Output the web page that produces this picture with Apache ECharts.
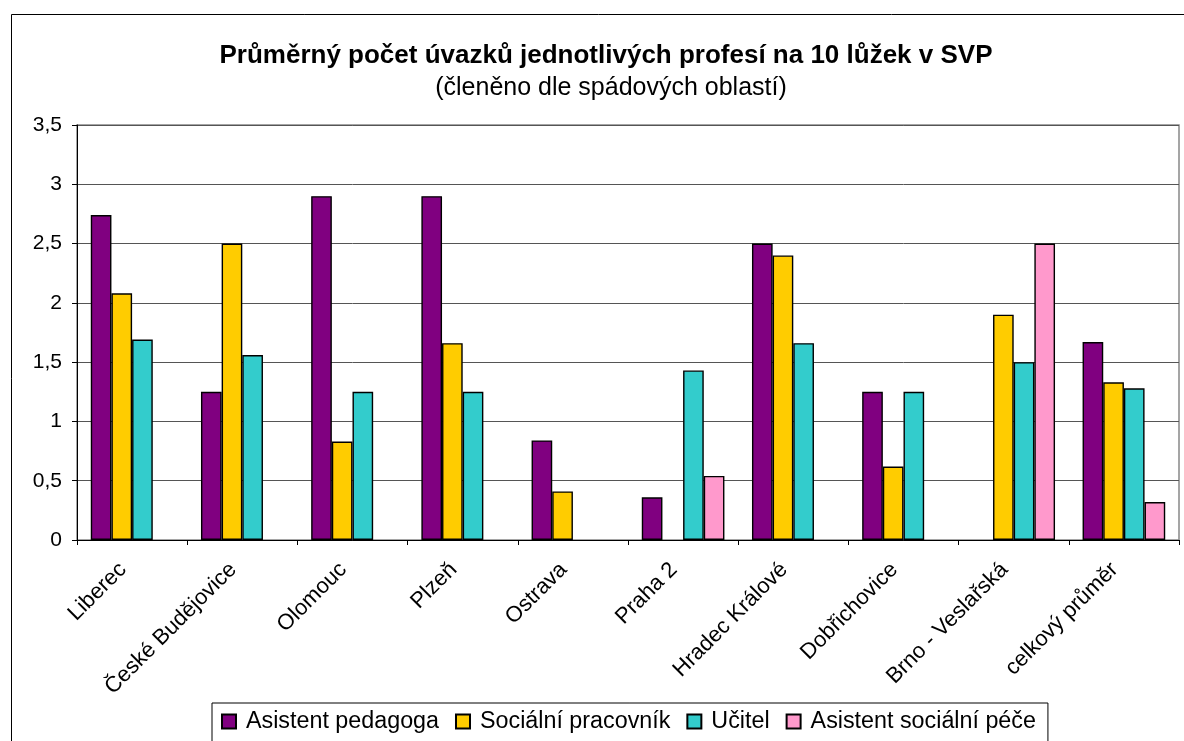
<!DOCTYPE html>
<html>
<head>
<meta charset="utf-8">
<script src="https://cdn.jsdelivr.net/npm/echarts@6/dist/echarts.min.js"></script>
<style>
html,body{margin:0;padding:0;background:#fff;}
#chart{width:1184px;height:741px;}
</style>
</head>
<body>
<div id="chart"></div>
<script>
const titleText = 'Průměrný počet úvazků jednotlivých profesí na 10 lůžek v SVP';
const subtitleText = '(členěno dle spádových oblastí)';
const categories = ['Liberec', 'České Budějovice', 'Olomouc', 'Plzeň', 'Ostrava', 'Praha 2', 'Hradec Králové', 'Dobřichovice', 'Brno - Veslařská', 'celkový průměr'];
const seriesNames = ['Asistent pedagoga', 'Sociální pracovník', 'Učitel', 'Asistent sociální péče'];
const asistentPedagoga = [2.74, 1.25, 2.9, 2.9, 0.84, 0.36, 2.5, 1.25, null, 1.67];
const socialniPracovnik = [2.08, 2.5, 0.83, 1.66, 0.41, null, 2.4, 0.62, 1.9, 1.33];
const ucitel = [1.69, 1.56, 1.25, 1.25, null, 1.43, 1.66, 1.25, 1.5, 1.28];
const asistentSocialniPece = [null, null, null, null, null, 0.54, null, null, 2.5, 0.32];
const colors = ['#800080', '#FFCC00', '#33CCCC', '#FF99CC'];
const yTicks = [0, 0.5, 1, 1.5, 2, 2.5, 3, 3.5];

const FONT = "'Liberation Sans', Arial, sans-serif";
const dataSets = [asistentPedagoga, socialniPracovnik, ucitel, asistentSocialniPece];

const legendRich = {t: {fontFamily: FONT, fontSize: 23.3, color: '#000', padding: [0, 0, 0, 11], verticalAlign: 'middle'}};
colors.forEach(function (c, i) {
  legendRich['m' + i] = {width: 12, height: 12, backgroundColor: c, borderColor: '#000', borderWidth: 2, verticalAlign: 'middle'};
});

const chart = echarts.init(document.getElementById('chart'), null, {renderer: 'canvas'});
chart.setOption({
  animation: false,
  backgroundColor: '#ffffff',
  color: colors,
  textStyle: {fontFamily: FONT},
  graphic: [{
    type: 'rect', left: 9, top: 12, z: -10,
    shape: {width: 1200, height: 760},
    style: {fill: 'none', stroke: '#000', lineWidth: 1}
  }],
  title: [{
    text: titleText, left: 601, top: 38, textAlign: 'center',
    textStyle: {fontFamily: FONT, fontSize: 26, fontWeight: 'bold', color: '#000'}
  }, {
    text: subtitleText, left: 606, top: 71, textAlign: 'center',
    textStyle: {fontFamily: FONT, fontSize: 25, fontWeight: 'normal', color: '#000'}
  }],
  legend: {
    data: seriesNames,
    left: 212, top: 703,
    orient: 'horizontal',
    itemWidth: 0, itemHeight: 0,
    itemGap: 12,
    padding: [7, 12, 20, 5],
    borderColor: '#000', borderWidth: 1,
    formatter: function (name) {
      return '{m' + seriesNames.indexOf(name) + '| }{t|' + name + '}';
    },
    textStyle: {fontFamily: FONT, fontSize: 23.3, color: '#000', rich: legendRich}
  },
  grid: {
    left: 77, right: 5, top: 125, bottom: 201,
    show: true, borderColor: '#888', borderWidth: 1.5, backgroundColor: 'transparent'
  },
  xAxis: {
    type: 'category',
    data: categories,
    axisLine: {lineStyle: {color: '#000', width: 1}},
    axisTick: {show: true, length: 5, interval: 0, lineStyle: {color: '#000'}},
    axisLabel: {
      interval: 0, rotate: 45, margin: 17,
      fontFamily: FONT, fontSize: 22, color: '#000',
      padding: [0, 13, 0, 0]
    },
    splitLine: {show: false}
  },
  yAxis: {
    type: 'value',
    min: 0, max: 3.5, interval: 0.5,
    axisLine: {show: true, lineStyle: {color: '#000', width: 1}},
    axisTick: {show: true, length: 5, lineStyle: {color: '#000'}},
    axisLabel: {
      margin: 15, fontFamily: FONT, fontSize: 21, color: '#000',
      formatter: function (v) { return String(v).replace('.', ','); }
    },
    splitLine: {show: true, lineStyle: {color: '#555', width: 1}}
  },
  series: seriesNames.map(function (name, i) {
    return {
      name: name,
      type: 'bar',
      data: dataSets[i],
      barGap: '0%',
      barCategoryGap: '25%',
      itemStyle: {color: colors[i], borderColor: '#000', borderWidth: 1.4}
    };
  })
});
</script>
</body>
</html>
